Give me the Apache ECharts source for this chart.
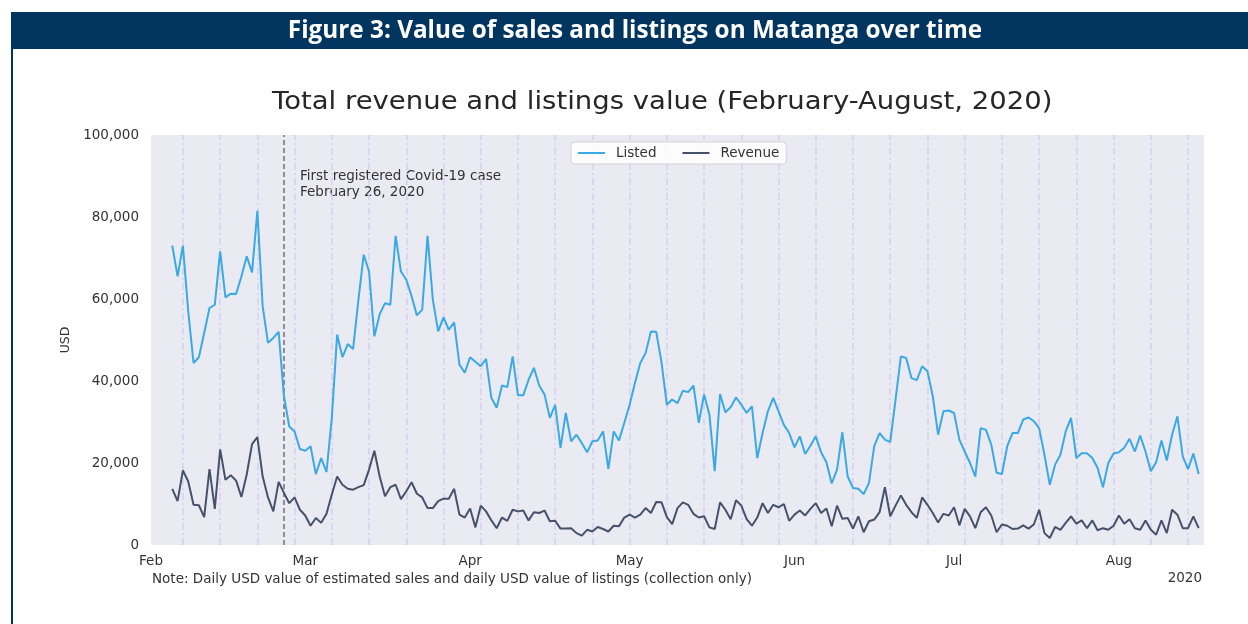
<!DOCTYPE html>
<html>
<head>
<meta charset="utf-8">
<script src="https://cdn.jsdelivr.net/npm/echarts@6/dist/echarts.min.js"></script>
<style>
  html, body { margin: 0; padding: 0; background: #fff; }
  #chart { width: 1248px; height: 624px; }
</style>
</head>
<body>
<div id="chart"></div>
<script>
// daily values, first observation on Feb 5 2020
const firstDay = '2020-02-05';

const listedFeb = [73000, 65500, 73000, 57000, 44400, 45800, 51700, 57800, 58600, 71600, 60400, 61300, 61200,
  65500, 70400, 66500, 81500, 58200, 49300, 50500, 52000, 36300, 28900, 27700, 23400];
const listedMar = [23000, 24100, 17300, 21200, 17800, 31000, 51300, 45800, 49000, 47800, 59800, 70800, 66700,
  50900, 56300, 59000, 58600, 75400, 66700, 64700, 60700, 56000, 57400, 75400, 59800, 52100, 55500, 52500,
  54300, 44000, 42000];
const listedApr = [45800, 44700, 43600, 45400, 35900, 33500, 38900, 38500, 46000, 36500, 36500, 40300, 43200,
  38900, 36700, 31000, 34200, 23700, 32200, 25300, 26900, 24900, 22600, 25300, 25500, 27700, 18600, 27700,
  25500, 29800];
const listedMay = [34200, 39500, 44400, 46800, 52100, 52000, 44500, 34200, 35500, 34600, 37600, 37300, 38900,
  29800, 36700, 31800, 18000, 36800, 32400, 33600, 36000, 34200, 32200, 33800, 21200, 27300, 32600, 35900,
  32600, 29300, 27300];
const listedJun = [23800, 26500, 22200, 24200, 26500, 22600, 20200, 15000, 18400, 27500, 16700, 13900, 13700,
  12400, 15100, 24200, 27300, 25700, 25100, 35400, 46000, 45600, 40700, 40200, 43600, 42400, 36300, 26900,
  32600, 32800];
const listedJul = [32200, 25700, 22800, 20000, 16700, 28500, 28100, 24500, 17600, 17300, 24100, 27300, 27300,
  30600, 31100, 30200, 28500, 22000, 14700, 19600, 22000, 27700, 31000, 21200, 22400, 22400, 21200, 18800,
  14100, 20000, 22300];
const listedAug = [22600, 23700, 25900, 22800, 26700, 22800, 18000, 20200, 25500, 20600, 26900, 31400, 21600,
  18500, 22300, 17300];

const revenueFeb = [13700, 10700, 18200, 15500, 9800, 9700, 6800, 18500, 8800, 23300, 15900, 17000, 15700,
  11700, 17200, 24600, 26300, 16700, 11600, 8200, 15400, 12700, 10200, 11600, 8600];
const revenueMar = [7200, 4700, 6600, 5400, 7600, 12300, 16700, 14700, 13700, 13500, 14100, 14600, 18400,
  23000, 16700, 11900, 14100, 14700, 11200, 13100, 15300, 12500, 11600, 9000, 9000, 10700, 11300, 11300,
  13700, 7400, 6700];
const revenueApr = [8900, 4300, 9600, 8200, 6000, 4100, 6700, 5900, 8600, 8200, 8400, 6000, 8000, 7800, 8400,
  5800, 5900, 4000, 4000, 4100, 2900, 2300, 3700, 3300, 4400, 3900, 3300, 4700, 4600, 6700];
const revenueMay = [7400, 6700, 7400, 9000, 7800, 10500, 10400, 6800, 5100, 9000, 10400, 9800, 7600, 6700,
  7000, 4300, 3900, 10400, 8600, 6300, 10900, 9600, 6300, 4700, 6700, 10200, 7800, 9800, 9200, 10000, 5900];
const revenueJun = [7400, 8400, 7200, 8800, 10200, 7800, 8900, 4600, 9600, 6400, 6600, 4000, 7000, 3100, 5800,
  6200, 8000, 14100, 7000, 9600, 12100, 9800, 8000, 6600, 11600, 9800, 7800, 5500, 7600, 7200];
const revenueJul = [9200, 4800, 8800, 7000, 4100, 8000, 9200, 7200, 3100, 5000, 4700, 3900, 4000, 4800, 4000,
  5000, 8600, 2900, 1700, 4400, 3700, 5400, 7000, 5200, 6000, 4100, 6000, 3600, 4100, 3700, 4700];
const revenueAug = [7200, 5200, 6300, 4100, 3700, 6000, 3700, 2500, 6000, 2900, 8600, 7400, 4100, 4100, 7000,
  4100];

const monthTicks = ['2020-02-01', '2020-03-01', '2020-04-01', '2020-05-01', '2020-06-01', '2020-07-01', '2020-08-01'];
const monthLabels = ['Feb', 'Mar', 'Apr', 'May', 'Jun', 'Jul', 'Aug'];
const firstWeekLine = '2020-02-07';
const weekLineCount = 28;
const covidDate = '2020-02-26';

function ts(s) {
  const [y, m, d] = s.split('-').map(Number);
  return new Date(y, m - 1, d).getTime();
}
function addDays(s, n) {
  const [y, m, d] = s.split('-').map(Number);
  return new Date(y, m - 1, d + n).getTime();
}
function toSeries(values) {
  return values.map((v, i) => [addDays(firstDay, i), v]);
}

const listed = toSeries([].concat(listedFeb, listedMar, listedApr, listedMay, listedJun, listedJul, listedAug));
const revenue = toSeries([].concat(revenueFeb, revenueMar, revenueApr, revenueMay, revenueJun, revenueJul, revenueAug));

const weekLines = [];
for (let k = 0; k < weekLineCount; k++) {
  weekLines.push({ xAxis: addDays(firstWeekLine, 7 * k) });
}
const tickValues = monthTicks.map(ts);

const chart = echarts.init(document.getElementById('chart'));
const font = 'DejaVu Sans';

chart.setOption({
  animation: false,
  backgroundColor: '#fff',
  textStyle: { fontFamily: font },
  grid: {
    left: 151,
    right: 44,
    top: 135,
    bottom: 79,
    show: true,
    backgroundColor: '#eaeaf2',
    borderWidth: 0,
  },
  legend: {
    data: ['Listed', 'Revenue'],
    icon: 'rect',
    left: 571,
    top: 142,
    padding: [4, 7],
    itemWidth: 27,
    itemHeight: 2,
    itemGap: 26,
    backgroundColor: 'rgba(255,255,255,0.85)',
    borderColor: '#d4d4d4',
    borderWidth: 1,
    borderRadius: 3,
    textStyle: { color: '#333', fontSize: 13.5, fontFamily: font, padding: [0, 0, 0, 6] },
  },
  xAxis: {
    // dates as timestamps on a plain value axis
    type: 'value',
    min: ts('2020-02-01'),
    max: ts('2020-08-17'),
    axisLine: { show: false },
    axisTick: { show: false },
    splitLine: { show: false },
    axisLabel: {
      customValues: tickValues,
      formatter: (v) => monthLabels[tickValues.indexOf(v)] || '',
      color: '#333',
      fontSize: 13.5,
      margin: 9,
      hideOverlap: false,
      showMinLabel: true,
    },
  },
  yAxis: {
    type: 'value',
    min: 0,
    max: 100000,
    interval: 20000,
    name: 'USD',
    nameLocation: 'middle',
    nameGap: 73,
    nameTextStyle: { color: '#333', fontSize: 12.5, fontFamily: font },
    axisLine: { show: false },
    axisTick: { show: false },
    splitLine: { show: false },
    axisLabel: {
      formatter: (v) => v.toLocaleString('en-US'),
      color: '#333',
      fontSize: 13.5,
      margin: 12,
    },
  },
  series: [
    {
      type: 'line',
      data: [],
      silent: true,
      z: 1,
      markLine: {
        z: 1,
        silent: true,
        symbol: 'none',
        label: { show: false },
        lineStyle: { color: '#d3d0f2', width: 1.5, type: [7, 3, 2, 3] },
        data: weekLines,
      },
    },
    {
      name: 'Listed',
      type: 'line',
      data: listed,
      symbol: 'none',
      z: 3,
      lineStyle: { color: '#3aa9e4', width: 2 },
      itemStyle: { color: '#3aa9e4' },
    },
    {
      name: 'Revenue',
      type: 'line',
      data: revenue,
      symbol: 'none',
      z: 3,
      lineStyle: { color: '#46526a', width: 2 },
      itemStyle: { color: '#46526a' },
      markLine: {
        z: 2,
        silent: true,
        symbol: 'none',
        label: { show: false },
        lineStyle: { color: '#7c7d88', width: 1.7, type: [5, 3] },
        data: [{ xAxis: ts(covidDate) }],
      },
    },
  ],
  graphic: [
    { type: 'rect', left: 11, top: 12, shape: { width: 1237, height: 37 }, style: { fill: '#00355f' } },
    { type: 'rect', left: 11, top: 49, shape: { width: 2, height: 575 }, style: { fill: '#00355f' } },
    {
      type: 'text', x: 635, y: 31,
      style: {
        text: 'Figure 3: Value of sales and listings on Matanga over time',
        fill: '#fff', font: 'bold 24.3px "Open Sans"', align: 'center', verticalAlign: 'middle',
      },
    },
    {
      type: 'text', x: 272, y: 102, scaleX: 1.1,
      style: {
        text: 'Total revenue and listings value (February-August, 2020)',
        fill: '#262626', font: '25px "DejaVu Sans"', verticalAlign: 'middle',
      },
    },
    {
      type: 'text', left: 300, top: 168,
      style: {
        text: 'First registered Covid-19 case\nFebruary 26, 2020',
        fill: '#333', font: '13.5px "DejaVu Sans"', lineHeight: 16,
      },
    },
    {
      type: 'text', left: 152, top: 572,
      style: {
        text: 'Note: Daily USD value of estimated sales and daily USD value of listings (collection only)',
        fill: '#333', font: '13.5px "DejaVu Sans"',
      },
    },
    {
      type: 'text', right: 46, top: 571,
      style: { text: '2020', fill: '#333', font: '13.5px "DejaVu Sans"' },
    },
  ],
});
</script>
</body>
</html>
